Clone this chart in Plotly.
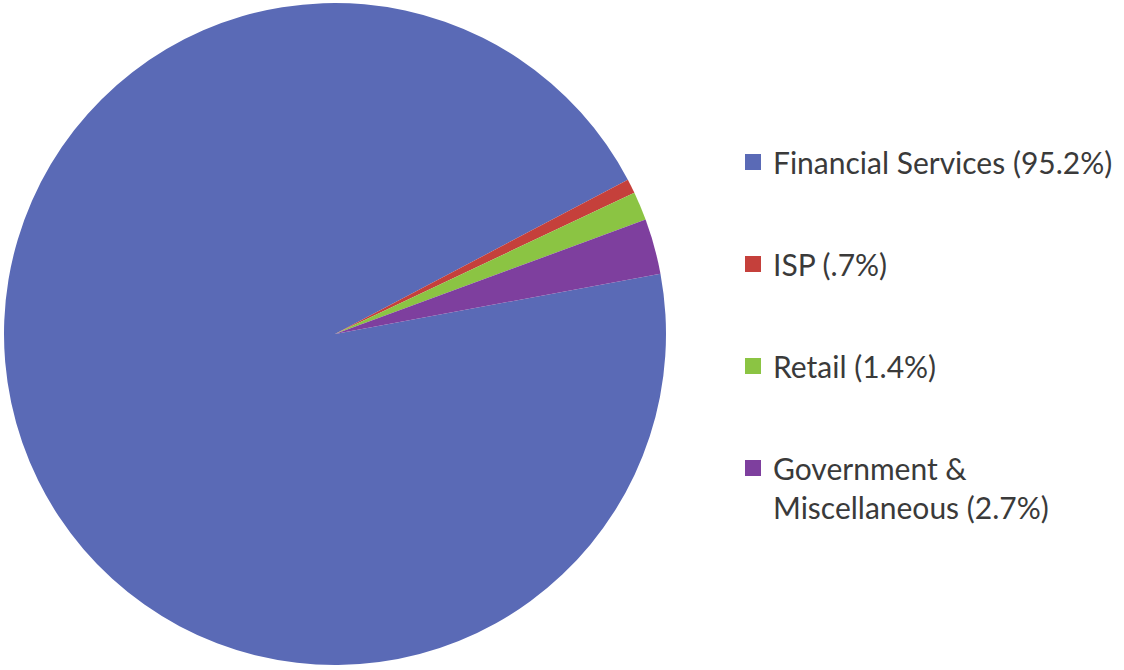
import plotly.graph_objects as go

categories = ["Financial Services", "ISP", "Retail", "Government &<br>Miscellaneous"]
percent_labels = ["95.2%", ".7%", "1.4%", "2.7%"]
values = [95.2, 0.7, 1.4, 2.7]
colors = ["#5A6AB6", "#C5403B", "#8BC443", "#7E3F9E"]

legend_labels = [f"{c} ({p})" for c, p in zip(categories, percent_labels)]

W, H = 1124, 670
cx, cy, r = 335, 334, 331

fig = go.Figure()
fig.add_trace(go.Pie(
    labels=legend_labels,
    values=values,
    marker=dict(colors=colors, line=dict(width=0)),
    sort=False,
    direction="clockwise",
    rotation=79.5,
    textinfo="none",
    hoverinfo="label+percent",
    showlegend=False,
    domain=dict(x=[(cx - r) / W, (cx + r) / W], y=[1 - (cy + r) / H, 1 - (cy - r) / H]),
))

# legend entries (one group per slice so the gap between them can be set)
for lab, col in zip(legend_labels, colors):
    fig.add_trace(go.Scatter(
        x=[None], y=[None], mode="markers",
        marker=dict(symbol="square", size=16, color=col),
        name=lab, legendgroup=lab, showlegend=True, hoverinfo="skip",
    ))

fig.update_layout(
    width=W, height=H,
    margin=dict(l=0, r=0, t=0, b=0),
    paper_bgcolor="white",
    plot_bgcolor="rgba(0,0,0,0)",
    xaxis=dict(visible=False),
    yaxis=dict(visible=False),
    showlegend=True,
    legend=dict(
        x=733 / W, xanchor="left",
        y=1 - 136 / H, yanchor="top",
        valign="top",
        font=dict(family="Lato", size=30, color="#3a3a3a"),
        bgcolor="rgba(0,0,0,0)",
        traceorder="grouped",
        tracegroupgap=60,
    ),
)

fig.write_html("out.html")
